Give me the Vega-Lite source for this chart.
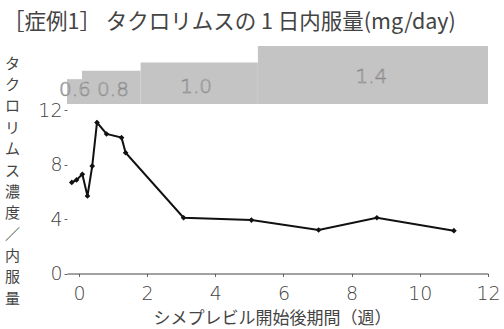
{
  "$schema": "https://vega.github.io/schema/vega-lite/v6.json",
  "width": 421,
  "height": 227.5,
  "autosize": {"type": "none"},
  "padding": {"left": 67, "top": 46, "right": 16, "bottom": 55.5},
  "background": "white",
  "title": {
    "text": "［症例1］ タクロリムスの 1 日内服量(mg/day)",
    "anchor": "start",
    "frame": "group",
    "dx": -64,
    "offset": 13,
    "fontSize": 21.5,
    "font": "Noto Sans CJK JP",
    "fontWeight": "normal",
    "color": "#444444"
  },
  "config": {
    "view": {"stroke": null},
    "axis": {
      "labelFont": "DejaVu Sans",
      "labelFontWeight": 200,
      "labelFontSize": 19,
      "labelColor": "#444444",
      "tickColor": "#666666",
      "domainColor": "#444444",
      "grid": false,
      "titleFont": "Noto Sans CJK JP",
      "titleFontWeight": "normal",
      "titleColor": "#444444"
    }
  },
  "datasets": {
    "dose": [
      {"start": -0.35, "end": 0.09, "dose": 0.6},
      {"start": 0.09, "end": 1.81, "dose": 0.8},
      {"start": 1.81, "end": 5.25, "dose": 1.0},
      {"start": 5.25, "end": 12, "dose": 1.4}
    ],
    "doseLabels": [
      {"lx": -0.12, "ly": 0.34, "label": "0.6"},
      {"lx": 1.0, "ly": 0.34, "label": "0.8"},
      {"lx": 3.44, "ly": 0.42, "label": "1.0"},
      {"lx": 8.58, "ly": 0.64, "label": "1.4"}
    ],
    "conc": [
      {"week": -0.21, "ratio": 6.7},
      {"week": -0.07, "ratio": 6.88},
      {"week": 0.1, "ratio": 7.3},
      {"week": 0.25, "ratio": 5.7},
      {"week": 0.39, "ratio": 7.9},
      {"week": 0.53, "ratio": 11.1},
      {"week": 0.81, "ratio": 10.26},
      {"week": 1.25, "ratio": 9.99},
      {"week": 1.37, "ratio": 8.88},
      {"week": 3.07, "ratio": 4.1},
      {"week": 5.06, "ratio": 3.93},
      {"week": 7.03, "ratio": 3.2},
      {"week": 8.74, "ratio": 4.1},
      {"week": 11.0, "ratio": 3.15}
    ]
  },
  "layer": [
    {
      "layer": [
        {
          "data": {"name": "dose"},
          "mark": {"type": "rect", "color": "#c4c4c4"},
          "encoding": {
            "x": {"field": "start", "type": "quantitative", "scale": {"domain": [-0.35, 12], "nice": false, "zero": false}},
            "x2": {"field": "end"},
            "y": {"field": "dose", "type": "quantitative", "scale": {"domain": [-4.09, 1.4], "nice": false, "zero": false}, "axis": null},
            "y2": {"datum": 0}
          }
        },
        {
          "data": {"name": "doseLabels"},
          "mark": {"type": "text", "font": "DejaVu Sans", "fontWeight": 200, "fontSize": 20, "fill": "#ececec", "stroke": "#8a8a8a", "strokeWidth": 0.7, "align": "center", "baseline": "middle"},
          "encoding": {
            "x": {"field": "lx", "type": "quantitative"},
            "y": {"field": "ly", "type": "quantitative", "axis": null},
            "text": {"field": "label"}
          }
        }
      ]
    },
    {
      "layer": [
        {
          "data": {"name": "conc"},
          "mark": {"type": "line", "color": "#111111", "strokeWidth": 2},
          "encoding": {
            "x": {
              "field": "week",
              "type": "quantitative",
              "scale": {"domain": [-0.35, 12], "nice": false, "zero": false},
              "axis": {
                "values": [0, 1, 2, 3, 4, 5, 6, 7, 8, 9, 10, 11, 12],
                "labelExpr": "datum.value % 2 === 0 ? datum.label : ''",
                "tickSize": 3,
                "labelPadding": 8,
                "labelFlush": false,
                "labelOverlap": false,
                "title": "シメプレビル開始後期間（週）",
                "titleFontSize": 17,
                "titleX": 205,
                "titleY": 45,
                "titleAlign": "center",
                "titleBaseline": "middle"
              }
            },
            "y": {
              "field": "ratio",
              "type": "quantitative",
              "scale": {"domain": [0, 16.73], "nice": false, "zero": false},
              "axis": {
                "values": [0, 2, 4, 6, 8, 10, 12],
                "labelExpr": "datum.value % 4 === 0 ? datum.label : ''",
                "domain": false,
                "tickSize": 3,
                "labelPadding": 2,
                "title": ["タ", "ク", "ロ", "リ", "ム", "ス", "濃", "度", "／", "内", "服", "量"],
                "titleAngle": 0,
                "titleFontSize": 15,
                "titleLineHeight": 21.4,
                "titleX": -55,
                "titleY": 10,
                "titleAlign": "center",
                "titleBaseline": "top"
              }
            }
          }
        },
        {
          "data": {"name": "conc"},
          "mark": {"type": "point", "shape": "diamond", "filled": true, "color": "#111111", "size": 32, "opacity": 1},
          "encoding": {
            "x": {"field": "week", "type": "quantitative"},
            "y": {"field": "ratio", "type": "quantitative"}
          }
        },
        {
          "mark": {"type": "rule", "color": "#444444", "strokeWidth": 1},
          "encoding": {
            "x": {"datum": -0.35},
            "y": {"datum": 0},
            "y2": {"datum": 12}
          }
        }
      ]
    }
  ],
  "resolve": {"scale": {"y": "independent"}}
}
